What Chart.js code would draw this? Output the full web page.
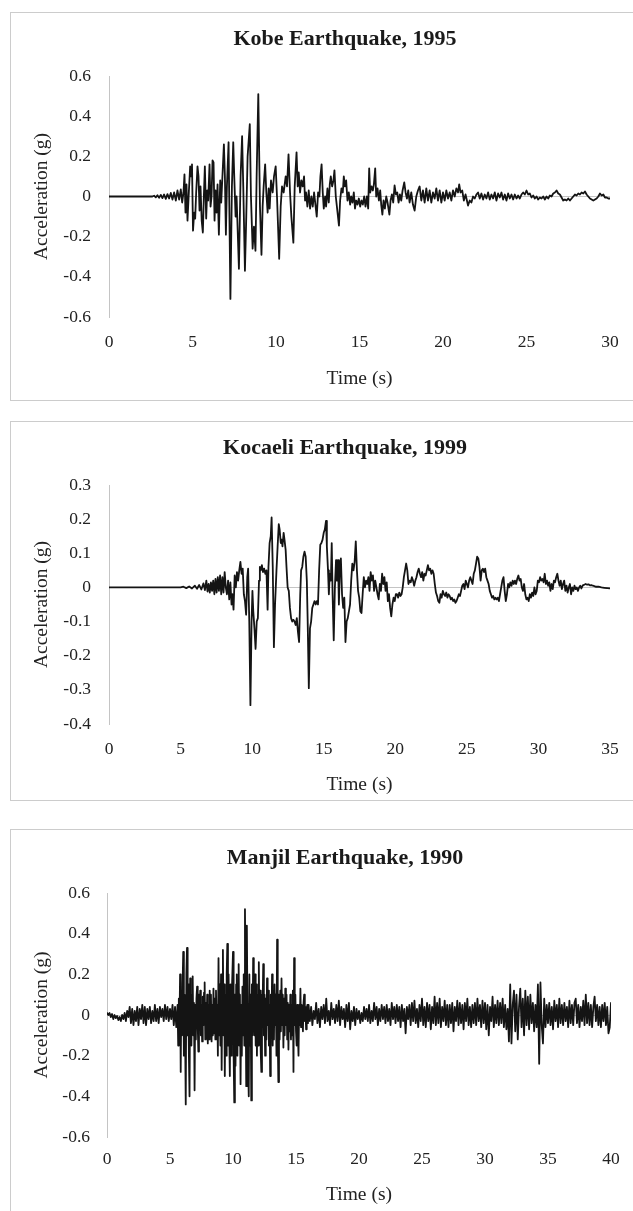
<!DOCTYPE html>
<html>
<head>
<meta charset="utf-8">
<style>
  body { margin: 0; width: 633px; height: 1211px; overflow: hidden; background: #fff; position: relative; }
  .frame { position: absolute; left: 10px; width: 680px; border: 1px solid #cccccc; }
  canvas { position: absolute; left: 0; }
</style>
</head>
<body>

<div class="frame" style="top:12px; height:387px;"></div>
<div class="frame" style="top:421px; height:378px;"></div>
<div class="frame" style="top:829px; height:420px;"></div>

<canvas id="kobe" width="690" height="389" style="top:12px;"></canvas>
<canvas id="kocaeli" width="690" height="380" style="top:421px;"></canvas>
<canvas id="manjil" width="690" height="382" style="top:829px;"></canvas>

<script src="https://cdn.jsdelivr.net/npm/chart.js"></script>

<script>
  // Kobe 1995
  const kobeTime = [
    0, 2.6, 2.7, 2.8, 2.9, 3.0, 3.1, 3.2, 3.3, 3.4,
    3.5, 3.6, 3.7, 3.8, 3.9, 4.0, 4.1, 4.2, 4.3, 4.38,
    4.46, 4.52, 4.58, 4.64, 4.7, 4.78, 4.86, 4.92, 4.97, 5.03,
    5.1, 5.16, 5.22, 5.3, 5.36, 5.42, 5.48, 5.55, 5.62, 5.68,
    5.74, 5.82, 5.88, 5.94, 6.02, 6.08, 6.14, 6.2, 6.26, 6.32,
    6.38, 6.44, 6.5, 6.58, 6.66, 6.72, 6.88, 6.94, 7.0, 7.06,
    7.16, 7.27, 7.36, 7.44, 7.5, 7.58, 7.64, 7.78, 7.88, 7.97,
    8.04, 8.14, 8.22, 8.3, 8.43, 8.5, 8.6, 8.68, 8.77, 8.84,
    8.94, 9.04, 9.13, 9.2, 9.26, 9.35, 9.42, 9.5, 9.56, 9.62,
    9.7, 9.8, 9.88, 9.98, 10.06, 10.19, 10.28, 10.36, 10.46, 10.58,
    10.66, 10.75, 10.84, 10.92, 11.04, 11.12, 11.23, 11.3, 11.36, 11.44,
    11.52, 11.6, 11.68, 11.74, 11.8, 11.88, 11.96, 12.04, 12.12, 12.2,
    12.28, 12.36, 12.44, 12.52, 12.6, 12.66, 12.73, 12.8, 12.86, 12.94,
    13.0, 13.08, 13.16, 13.22, 13.28, 13.36, 13.44, 13.5, 13.58, 13.66,
    13.77, 13.84, 13.92, 14.0, 14.06, 14.12, 14.2, 14.28, 14.36, 14.44,
    14.5, 14.58, 14.66, 14.73, 14.8, 14.88, 14.96, 15.04, 15.12, 15.2,
    15.28, 15.36, 15.44, 15.52, 15.58, 15.64, 15.72, 15.8, 15.86, 15.94,
    16.0, 16.08, 16.16, 16.24, 16.3, 16.37, 16.44, 16.52, 16.6, 16.68,
    16.79, 16.86, 16.94, 17.02, 17.1, 17.18, 17.26, 17.34, 17.42, 17.5,
    17.58, 17.68, 17.76, 17.84, 17.92, 18.0, 18.1, 18.2, 18.3, 18.4,
    18.5, 18.6, 18.7, 18.8, 18.9, 19.0, 19.1, 19.2, 19.3, 19.4,
    19.5, 19.6, 19.7, 19.8, 19.9, 20.0, 20.1, 20.2, 20.3, 20.4,
    20.5, 20.6, 20.7, 20.8, 20.9, 20.97, 21.05, 21.15, 21.25, 21.35,
    21.5, 21.6, 21.7, 21.8, 21.9, 22.0, 22.1, 22.2, 22.3, 22.4,
    22.5, 22.6, 22.7, 22.8, 22.9, 23.0, 23.1, 23.2, 23.3, 23.4,
    23.5, 23.6, 23.7, 23.8, 23.9, 24.0, 24.1, 24.2, 24.3, 24.4,
    24.5, 24.6, 24.7, 24.8, 24.9, 25.0, 25.1, 25.2, 25.3, 25.4,
    25.5, 25.6, 25.7, 25.8, 25.9, 26.0, 26.1, 26.2, 26.3, 26.4,
    26.5, 26.6, 26.7, 26.8, 26.9, 27.0, 27.1, 27.2, 27.3, 27.4,
    27.5, 27.6, 27.7, 27.8, 27.9, 28.0, 28.1, 28.2, 28.3, 28.4,
    28.5, 28.6, 28.7, 28.8, 28.9, 29.0, 29.1, 29.2, 29.3, 29.4,
    29.5, 29.6, 29.7, 29.8, 29.9, 30.0
  ];
  const kobeAcc = [
    0, 0, 0.004, -0.004, 0.006, -0.006, 0.008, -0.008, 0.01, -0.012,
    0.012, -0.01, 0.018, -0.015, 0.02, -0.02, 0.03, -0.015, 0.035, -0.03,
    0.02, 0.11, -0.08, 0.06, -0.12, 0.02, 0.15, 0.1, 0.16, -0.17,
    -0.08, -0.11, 0.02, 0.15, 0.1, -0.07, 0.05, -0.12, -0.18, 0,
    0.15, -0.11, 0.03, -0.02, 0.16, -0.05, 0, 0.18, 0.17, -0.12,
    0.03, -0.08, 0.06, -0.19, 0.08, -0.03, 0.26, 0.1, -0.19, 0.05,
    0.27, -0.51, 0.05, 0.27, 0.1, -0.1, 0, -0.36, 0.1, 0.3,
    0.05, -0.37, -0.1, 0.2, 0.36, 0, -0.26, -0.15, -0.27, 0.1,
    0.51, -0.05, -0.29, -0.05, 0.05, 0.16, 0.02, -0.08, 0.04, -0.06,
    0.08, 0.02, 0.1, 0.15, 0, -0.31, -0.05, 0.05, 0.02, 0.1,
    0.05, 0.21, 0.02, -0.1, -0.23, 0.05, 0.22, 0.05, 0.12, 0.02,
    0.08, 0.05, 0.1, -0.02, 0.02, -0.05, 0.03, -0.06, 0, -0.05,
    0.02, -0.04, -0.1, 0.02, 0, 0.1, 0.16, 0.02, -0.06, 0,
    -0.05, 0.04, -0.03, 0.06, 0.1, 0.05, 0.08, 0.13, 0, -0.06,
    -0.145, -0.02, 0.04, 0.02, 0.1, 0.05, 0.08, -0.02, 0.02, -0.04,
    0, -0.03, 0.02, -0.06, -0.02, -0.04, -0.01, -0.05, -0.02, -0.04,
    0, -0.05, 0, -0.06, 0.14, 0.02, 0.05, 0.03, 0.06, 0.14,
    0, 0.04, -0.02, 0.03, -0.04, -0.09, -0.02, -0.06, 0, -0.03,
    -0.09, -0.02, 0.01, -0.03, 0.055, 0.01, 0.02, -0.03, 0.01, -0.02,
    0.03, 0.07, 0.02, -0.01, 0.03, -0.03, 0.02, -0.04, -0.07, 0,
    0.03, 0.05, -0.02, 0.03, -0.03, 0.04, -0.02, 0.03, -0.03, 0.02,
    -0.01, 0.04, -0.02, 0.03, -0.03, 0.02, -0.02, 0.03, -0.01, 0.02,
    -0.02, 0.03, 0, 0.04, 0.02, 0.06, 0.02, 0.03, -0.02, 0.01,
    -0.045, -0.02, -0.03, 0, -0.01, 0.01, 0.02, -0.01, 0.015, -0.015,
    0.01, -0.01, 0.02, -0.015, 0.01, -0.01, 0.02, -0.02, 0.015, -0.005,
    0.02, -0.015, 0.01, -0.02, 0.015, -0.01, 0.01, -0.015, 0.01, -0.01,
    0.005, -0.01, 0.01, 0.02, 0.01, 0.03, 0.01, 0.015, -0.005, 0.005,
    -0.01, 0, -0.015, -0.005, -0.01, 0, -0.015, 0, -0.01, 0.005,
    0, 0.015, 0.02, 0.03, 0.015, 0.01, -0.005, -0.02, -0.015, -0.02,
    -0.01, -0.02, -0.01, 0, 0.01, 0.005, 0.015, 0.01, 0.02, 0.015,
    0.025, 0.01, 0, -0.01, -0.015, -0.02, -0.015, -0.01, 0, 0.015,
    0.005, 0.01, -0.005, -0.005, -0.01, -0.01
  ];
  const kobeXTicks = [0, 5, 10, 15, 20, 25, 30];
  const kobeYTicks = [-0.6, -0.4, -0.2, 0, 0.2, 0.4, 0.6];

  // Kocaeli 1999
  const kocaeliTime = [
    0, 5.0, 5.2, 5.4, 5.6, 5.8, 6.0, 6.15, 6.3, 6.45,
    6.6, 6.7, 6.8, 6.88, 6.96, 7.04, 7.12, 7.2, 7.28, 7.36,
    7.44, 7.52, 7.6, 7.68, 7.76, 7.84, 7.92, 8.0, 8.08, 8.16,
    8.24, 8.32, 8.4, 8.48, 8.56, 8.62, 8.7, 8.78, 8.86, 8.94,
    9.02, 9.1, 9.18, 9.26, 9.34, 9.42, 9.5, 9.58, 9.66, 9.72,
    9.8, 9.88, 9.96, 10.02, 10.08, 10.16, 10.24, 10.32, 10.4, 10.48,
    10.54, 10.6, 10.68, 10.76, 10.84, 10.92, 11.0, 11.08, 11.14, 11.22,
    11.3, 11.36, 11.44, 11.52, 11.6, 11.7, 11.78, 11.86, 11.92, 12.0,
    12.06, 12.12, 12.2, 12.26, 12.34, 12.4, 12.48, 12.56, 12.64, 12.72,
    12.8, 12.88, 12.96, 13.04, 13.12, 13.2, 13.28, 13.36, 13.42, 13.5,
    13.58, 13.66, 13.74, 13.82, 13.88, 13.96, 14.04, 14.12, 14.2, 14.28,
    14.36, 14.44, 14.52, 14.6, 14.68, 14.76, 14.84, 14.92, 15.0, 15.08,
    15.16, 15.22, 15.3, 15.36, 15.42, 15.5, 15.56, 15.62, 15.7, 15.78,
    15.86, 15.92, 16.0, 16.06, 16.12, 16.2, 16.28, 16.36, 16.44, 16.52,
    16.6, 16.68, 16.76, 16.84, 16.92, 17.0, 17.08, 17.16, 17.24, 17.32,
    17.4, 17.48, 17.56, 17.64, 17.72, 17.8, 17.88, 17.96, 18.04, 18.12,
    18.2, 18.28, 18.36, 18.44, 18.52, 18.6, 18.68, 18.76, 18.84, 18.92,
    19.0, 19.08, 19.16, 19.24, 19.32, 19.4, 19.48, 19.56, 19.64, 19.72,
    19.8, 19.88, 19.96, 20.04, 20.12, 20.2, 20.28, 20.36, 20.44, 20.52,
    20.6, 20.68, 20.76, 20.84, 20.92, 21.0, 21.08, 21.16, 21.24, 21.32,
    21.4, 21.48, 21.56, 21.64, 21.72, 21.8, 21.88, 21.96, 22.04, 22.12,
    22.2, 22.28, 22.36, 22.44, 22.52, 22.6, 22.68, 22.76, 22.84, 22.92,
    23.0, 23.08, 23.16, 23.24, 23.32, 23.4, 23.48, 23.56, 23.64, 23.72,
    23.8, 23.88, 23.96, 24.04, 24.12, 24.2, 24.28, 24.36, 24.44, 24.52,
    24.6, 24.68, 24.76, 24.84, 24.92, 25.0, 25.08, 25.16, 25.24, 25.32,
    25.4, 25.48, 25.56, 25.64, 25.72, 25.8, 25.88, 25.96, 26.04, 26.12,
    26.2, 26.28, 26.36, 26.44, 26.52, 26.6, 26.68, 26.76, 26.84, 26.92,
    27.0, 27.08, 27.16, 27.24, 27.32, 27.4, 27.48, 27.56, 27.64, 27.72,
    27.8, 27.88, 27.96, 28.04, 28.12, 28.2, 28.28, 28.36, 28.44, 28.52,
    28.6, 28.68, 28.76, 28.84, 28.92, 29.0, 29.08, 29.16, 29.24, 29.32,
    29.4, 29.48, 29.56, 29.64, 29.72, 29.8, 29.88, 29.96, 30.04, 30.12,
    30.2, 30.28, 30.36, 30.44, 30.52, 30.6, 30.68, 30.76, 30.84, 30.92,
    31.0, 31.08, 31.16, 31.24, 31.32, 31.4, 31.48, 31.56, 31.64, 31.72,
    31.8, 31.88, 31.96, 32.04, 32.12, 32.2, 32.28, 32.36, 32.44, 32.52,
    32.6, 32.68, 32.76, 32.84, 32.92, 33.0, 33.1, 33.2, 33.3, 33.4,
    33.5, 33.6, 33.7, 33.8, 33.9, 34.0, 34.2, 34.4, 34.6, 34.8, 35.0
  ];
  const kocaeliAcc = [
    0, 0, 0.002, -0.002, 0.003, -0.003, 0.005, -0.004, 0.007, -0.006,
    0.012, -0.008, 0.02, -0.012, 0.01, -0.015, 0.015, -0.01, 0.02, -0.02,
    0.025, -0.015, 0.03, -0.01, 0.035, -0.02, 0.03, -0.015, 0.045, 0,
    -0.02, 0.02, -0.035, 0.015, -0.05, -0.02, -0.065, 0.035, 0, 0.045,
    0.02, 0.05, 0.075, 0.04, 0.055, -0.02, -0.04, -0.08, 0.03, 0.055,
    -0.1, -0.345, -0.1, -0.01, -0.07, -0.12, -0.18, -0.1, -0.09, 0.02,
    0.06, 0.05, 0.065, 0.045, 0.055, 0.04, 0.05, -0.065, 0.06, 0.13,
    0.15, 0.205, 0.06, -0.175, -0.05, 0.05, 0.12, 0.185, 0.17, 0.13,
    0.14, 0.12, 0.16, 0.14, 0.11, 0.06, 0, -0.01, -0.06, -0.09,
    -0.1, -0.095, -0.1, -0.11, -0.09, -0.13, -0.16, -0.02, 0.05, 0.06,
    0.09, 0.105, 0.09, 0.02, -0.1, -0.295, -0.12, -0.1, -0.06, -0.05,
    -0.04, -0.05, -0.04, -0.05, 0.05, 0.125, 0.13, 0.14, 0.16, 0.17,
    0.195, 0.12, 0.05, -0.02, 0.04, 0.02, 0.13, -0.02, -0.155, 0,
    0.08, 0.02, 0.08, -0.05, 0.04, 0.085, -0.02, -0.06, -0.03, -0.16,
    -0.1, -0.09, -0.07, -0.05, 0.02, 0.07, 0.05, 0.075, 0.135, 0.05,
    -0.01, -0.03, -0.07, -0.075, -0.02, 0.03, 0, 0.02, 0.01, 0.03,
    -0.01, 0.045, 0.02, 0.035, -0.01, 0.02, 0, -0.02, -0.035, 0.01,
    -0.01, 0.04, 0.01, 0.03, -0.01, 0.015, -0.04, -0.02, -0.06, -0.085,
    -0.05, -0.03, -0.04, -0.02, -0.02, -0.03, -0.015, -0.025, -0.02, 0,
    0.03, 0.05, 0.07, 0.05, 0.01, 0.02, 0.015, 0.03, 0.02, 0.005,
    0.02, 0.03, 0.045, 0.055, 0.04, 0.03, 0.045, 0.02, 0.04, 0.035,
    0.05, 0.065, 0.05, 0.055, 0.04, 0.05, 0.04, 0.01, -0.015, -0.025,
    -0.04, -0.045, -0.02, -0.03, -0.01, -0.02, -0.025, -0.015, -0.03, -0.02,
    -0.025, -0.035, -0.03, -0.04, -0.035, -0.045, -0.04, -0.03, -0.02, -0.025,
    -0.01, 0.005, 0.01, -0.005, 0.02, 0.01, 0, 0.02, 0.03, 0.02,
    0.01, 0.04, 0.05, 0.07, 0.09, 0.085, 0.06, 0.02, 0.05, 0.055,
    0.045, 0.055, 0.03, 0.02, 0.01, -0.01, -0.02, -0.03, -0.025, -0.035,
    -0.03, -0.035, -0.03, -0.04, -0.02, 0, 0.02, 0.03, -0.01, -0.04,
    -0.02, 0.01, 0, 0.015, 0.005, 0.02, 0.01, 0.02, 0.01, 0.025,
    0.035, 0.02, 0.025, 0, -0.01, 0.01, -0.02, -0.035, -0.03, -0.04,
    -0.02, -0.03, -0.015, -0.025, 0, -0.02, -0.01, 0.02, 0.015, 0.03,
    0.02, 0.025, 0.015, 0.04, 0.01, 0.02, 0.005, 0.015, -0.01, 0.01,
    -0.005, 0.02, 0.015, 0.03, 0.04, 0.02, 0.005, 0.02, -0.005, 0.01,
    0.02, -0.01, 0.005, -0.015, 0, 0.01, -0.02, 0, -0.01, 0.005,
    -0.005, 0, -0.01, 0, 0.005, -0.003, 0.006, 0.008, 0.01, 0.008,
    0.009, 0.006, 0.007, 0.005, 0.004, 0.002, 0.002, 0, -0.001, -0.002, -0.003
  ];
  const kocaeliXTicks = [0, 5, 10, 15, 20, 25, 30, 35];
  const kocaeliYTicks = [-0.4, -0.3, -0.2, -0.1, 0, 0.1, 0.2, 0.3];

  // Manjil 1990
  const manjilTime = [
    0, 0.1, 0.2, 0.3, 0.4, 0.5, 0.6, 0.7, 0.8, 0.9,
    1.0, 1.1, 1.2, 1.3, 1.4, 1.5, 1.6, 1.7, 1.8, 1.9,
    2.0, 2.1, 2.2, 2.3, 2.4, 2.5, 2.6, 2.7, 2.8, 2.9,
    3.0, 3.1, 3.2, 3.3, 3.4, 3.5, 3.6, 3.7, 3.8, 3.9,
    4.0, 4.1, 4.2, 4.3, 4.4, 4.5, 4.6, 4.7, 4.8, 4.9,
    5.0, 5.1, 5.2, 5.3, 5.4, 5.5,
    5.6, 5.65, 5.7, 5.75, 5.8, 5.85, 5.9, 5.95, 6.0, 6.05,
    6.1, 6.15, 6.2, 6.25, 6.3, 6.35, 6.4, 6.45, 6.5, 6.55,
    6.6, 6.65, 6.7, 6.75, 6.8, 6.85, 6.9, 6.95, 7.0, 7.05,
    7.1, 7.15, 7.2, 7.25, 7.3, 7.35, 7.4, 7.45, 7.5, 7.55,
    7.6, 7.65, 7.7, 7.75, 7.8, 7.85, 7.9, 7.95, 8.0, 8.05,
    8.1, 8.15, 8.2, 8.25, 8.3, 8.35, 8.4, 8.45, 8.5, 8.55,
    8.6, 8.65, 8.7, 8.75, 8.8, 8.85, 8.9, 8.95, 9.0, 9.05,
    9.1, 9.15, 9.2, 9.25, 9.3, 9.35, 9.4, 9.45, 9.5, 9.55,
    9.6, 9.65, 9.7, 9.75, 9.8, 9.85, 9.9, 9.95, 10.0, 10.05,
    10.1, 10.15, 10.2, 10.25, 10.3, 10.35, 10.4, 10.45, 10.5, 10.55,
    10.6, 10.65, 10.7, 10.75, 10.8, 10.85, 10.9, 10.95, 11.0, 11.05,
    11.1, 11.15, 11.2, 11.25, 11.3, 11.35, 11.4, 11.45, 11.5, 11.55,
    11.6, 11.65, 11.7, 11.75, 11.8, 11.85, 11.9, 11.95, 12.0, 12.05,
    12.1, 12.15, 12.2, 12.25, 12.3, 12.35, 12.4, 12.45, 12.5, 12.55,
    12.6, 12.65, 12.7, 12.75, 12.8, 12.85, 12.9, 12.95, 13.0, 13.05,
    13.1, 13.15, 13.2, 13.25, 13.3, 13.35, 13.4, 13.45, 13.5, 13.55,
    13.6, 13.65, 13.7, 13.75, 13.8, 13.85, 13.9, 13.95, 14.0, 14.05,
    14.1, 14.15, 14.2, 14.25, 14.3, 14.35, 14.4, 14.45, 14.5, 14.55,
    14.6, 14.65, 14.7, 14.75, 14.8, 14.85, 14.9, 14.95, 15.0, 15.05,
    15.1, 15.15, 15.2, 15.25, 15.3, 15.35, 15.4, 15.45, 15.5, 15.55,
    15.6, 15.65, 15.7, 15.75, 15.8, 15.85, 15.9, 15.95, 16.0,
    16.1, 16.2, 16.3, 16.4, 16.5, 16.6, 16.7, 16.8, 16.9, 17.0,
    17.1, 17.2, 17.3, 17.4, 17.5, 17.6, 17.7, 17.8, 17.9, 18.0,
    18.1, 18.2, 18.3, 18.4, 18.5, 18.6, 18.7, 18.8, 18.9, 19.0,
    19.1, 19.2, 19.3, 19.4, 19.5, 19.6, 19.7, 19.8, 19.9, 20.0,
    20.1, 20.2, 20.3, 20.4, 20.5, 20.6, 20.7, 20.8, 20.9, 21.0,
    21.1, 21.2, 21.3, 21.4, 21.5, 21.6, 21.7, 21.8, 21.9, 22.0,
    22.1, 22.2, 22.3, 22.4, 22.5, 22.6, 22.7, 22.8, 22.9, 23.0,
    23.1, 23.2, 23.3, 23.4, 23.5, 23.6, 23.7, 23.8, 23.9, 24.0,
    24.1, 24.2, 24.3, 24.4, 24.5, 24.6, 24.7, 24.8, 24.9, 25.0,
    25.1, 25.2, 25.3, 25.4, 25.5, 25.6, 25.7, 25.8, 25.9, 26.0,
    26.1, 26.2, 26.3, 26.4, 26.5, 26.6, 26.7, 26.8, 26.9, 27.0,
    27.1, 27.2, 27.3, 27.4, 27.5, 27.6, 27.7, 27.8, 27.9, 28.0,
    28.1, 28.2, 28.3, 28.4, 28.5, 28.6, 28.7, 28.8, 28.9, 29.0,
    29.1, 29.2, 29.3, 29.4, 29.5, 29.6, 29.7, 29.8, 29.9, 30.0,
    30.1, 30.2, 30.3, 30.4, 30.5, 30.6, 30.7, 30.8, 30.9, 31.0,
    31.1, 31.2, 31.3, 31.4, 31.5, 31.6, 31.7, 31.8, 31.9, 32.0,
    32.1, 32.2, 32.3, 32.4, 32.5, 32.6, 32.7, 32.8, 32.9, 33.0,
    33.1, 33.2, 33.3, 33.4, 33.5, 33.6, 33.7, 33.8, 33.9, 34.0,
    34.1, 34.2, 34.3, 34.4, 34.5, 34.6, 34.7, 34.8, 34.9, 35.0,
    35.1, 35.2, 35.3, 35.4, 35.5, 35.6, 35.7, 35.8, 35.9, 36.0,
    36.1, 36.2, 36.3, 36.4, 36.5, 36.6, 36.7, 36.8, 36.9, 37.0,
    37.1, 37.2, 37.3, 37.4, 37.5, 37.6, 37.7, 37.8, 37.9, 38.0,
    38.1, 38.2, 38.3, 38.4, 38.5, 38.6, 38.7, 38.8, 38.9, 39.0,
    39.1, 39.2, 39.3, 39.4, 39.5, 39.6, 39.7, 39.8, 39.9, 40.0
  ];
  const manjilAcc = [
    0.01, 0, 0.01, -0.01, 0.005, -0.02, 0, -0.015, -0.005, -0.025,
    -0.01, -0.03, 0, -0.02, 0.01, -0.03, 0.02, -0.01, 0.04, -0.04,
    0.03, -0.05, 0.02, -0.03, 0.04, -0.05, 0.03, -0.02, 0.05, -0.04,
    0.04, -0.05, 0.03, -0.02, 0.04, -0.04, 0.02, -0.03, 0.05, -0.03,
    0.03, -0.04, 0.04, -0.01, 0.03, -0.03, 0.05, -0.02, 0.04, -0.03,
    0.03, -0.02, 0.05, -0.05, 0.04, -0.06,
    0.05, -0.15, 0.08, -0.05, 0.2, -0.28, 0.1, -0.1, 0.15, 0.31,
    -0.2, 0.1, -0.1, -0.44, 0.2, 0.33, -0.1, 0.15, -0.2, -0.4,
    0.18, 0.05, -0.15, 0.1, 0.19, -0.1, 0.06, -0.37, 0.05, -0.12,
    0.08, 0.14, -0.05, -0.18, 0.1, -0.06, 0.12, -0.1, 0.05, -0.13,
    0.09, -0.05, 0.11, 0.16, -0.12, 0.06, -0.1, 0.1, -0.14, 0.05,
    -0.12, 0.12, -0.08, 0.1, -0.13, 0.05, -0.1, 0.13, -0.09, 0.08,
    -0.12, 0.12, -0.06, 0.05, -0.2, 0.28, -0.1, 0.15, -0.15, 0.2,
    -0.27, 0.12, 0.32, -0.1, 0.15, -0.3, 0.1, -0.2, 0.2, 0.35,
    -0.15, 0.2, -0.1, -0.3, 0.15, -0.2, 0.1, 0.2, 0.31, -0.2,
    -0.43, 0.1, -0.25, 0.15, 0.2, -0.2, 0.1, 0.25, -0.15, 0.1,
    -0.34, 0.05, -0.2, 0.14, -0.1, 0.2, -0.15, 0.52, 0.1, -0.35,
    0.44, 0, -0.25, -0.4, 0.2, -0.15, 0.1, -0.42, 0.15, -0.1,
    0.28, 0.1, -0.1, 0.2, -0.15, 0.15, -0.2, 0.1, -0.15, 0.26,
    -0.1, 0.12, -0.18, -0.28, 0.1, 0.05, 0.25, -0.1, 0.1, -0.2,
    0.08, -0.12, 0.18, -0.05, 0.12, -0.15, 0.05, -0.3, 0.1, -0.1,
    0.2, -0.15, 0.1, -0.12, 0.15, -0.05, 0.1, -0.2, 0.37, -0.1,
    -0.33, 0.1, -0.12, 0.12, -0.08, 0.18, -0.05, 0.1, -0.16, 0.08,
    -0.1, 0.13, -0.05, 0.1, -0.12, 0.06, -0.17, 0.05, -0.08, 0.1,
    -0.12, 0.05, -0.1, 0.12, -0.28, 0.28, -0.05, 0.1, -0.08, -0.15,
    0.05, -0.1, -0.2, 0.05, -0.05, 0.13, -0.06, 0.05, -0.02, -0.08,
    0.06, 0.1, -0.03, 0.04, -0.07, 0.02, 0.05, -0.04, 0.05,
    -0.03, 0.04, -0.05, 0.02, -0.02, 0.06, -0.04, 0.03, -0.06, 0.04,
    -0.02, 0.05, -0.04, 0.08, -0.03, 0.02, -0.05, 0.06, -0.02, 0.03,
    -0.04, 0.05, -0.03, 0.07, -0.05, 0.04, -0.02, 0.03, -0.06, 0.05,
    -0.03, 0.06, -0.07, 0.02, -0.03, 0.04, -0.05, 0.03, -0.02, 0.02,
    -0.04, 0.01, -0.03, 0.04, -0.02, 0.03, -0.03, 0.05, -0.04, 0.02,
    -0.03, 0.06, -0.02, 0.04, -0.05, 0.03, -0.03, 0.05, -0.02, 0.04,
    -0.04, 0.05, -0.03, 0.03, -0.05, 0.06, -0.02, 0.04, -0.04, 0.05,
    -0.03, 0.04, -0.06, 0.05, -0.03, 0.03, -0.09, 0.04, -0.02, 0.05,
    -0.05, 0.06, -0.03, 0.07, -0.04, 0.03, -0.06, 0.05, -0.03, 0.08,
    -0.05, 0.04, -0.06, 0.06, -0.03, 0.05, -0.07, 0.04, -0.04, 0.09,
    -0.05, 0.06, -0.04, 0.08, -0.06, 0.04, -0.03, 0.07, -0.05, 0.05,
    -0.06, 0.05, -0.04, 0.06, -0.08, 0.04, -0.03, 0.07, -0.05, 0.06,
    -0.04, 0.05, -0.07, 0.06, -0.03, 0.08, -0.05, 0.04, -0.06, 0.05,
    -0.04, 0.06, -0.05, 0.08, -0.03, 0.05, -0.06, 0.07, -0.04, 0.06,
    -0.07, 0.05, -0.1, 0.04, -0.03, 0.09, -0.06, 0.05, -0.04, 0.07,
    -0.05, 0.06, -0.04, 0.08, -0.06, 0.05, -0.07, 0.03, -0.13, 0.15,
    -0.14, 0.05, 0.12, -0.08, 0.1, -0.12, 0.04, 0.13, -0.06, 0.08,
    -0.1, 0.12, -0.05, 0.09, -0.07, 0.1, -0.04, 0.06, -0.08, 0.05,
    -0.06, 0.15, -0.24, 0.16, -0.05, -0.14, 0.08, -0.06, 0.05, -0.04,
    0.06, -0.05, 0.04, -0.07, 0.07, -0.03, 0.05, -0.06, 0.08, -0.04,
    0.05, -0.05, 0.06, -0.03, 0.04, -0.06, 0.07, -0.04, 0.05, -0.05,
    0.06, 0.08, -0.04, 0.05, -0.06, 0.04, -0.03, 0.07, -0.05, 0.1,
    -0.04, 0.06, -0.05, 0.05, -0.06, 0.04, 0.09, -0.03, 0.05, -0.05,
    0.04, -0.06, 0.05, -0.03, 0.06, -0.05, 0.04, -0.09, -0.06, 0.06
  ];
  const manjilXTicks = [0, 5, 10, 15, 20, 25, 30, 35, 40];
  const manjilYTicks = [-0.6, -0.4, -0.2, 0, 0.2, 0.4, 0.6];

  Chart.defaults.font.family = "'Liberation Serif', 'Times New Roman', serif";

  function drawRecord(id, title, time, acc, xTicks, yTicks, fit) {
    const points = time.map((t, i) => ({ x: t, y: acc[i] }));
    return new Chart(document.getElementById(id), {
      type: 'line',
      data: {
        datasets: [{
          data: points,
          yAxisID: 'y',
          borderColor: '#141414',
          borderWidth: fit.lineWidth,
          pointRadius: 0,
          tension: 0,
          borderJoinStyle: 'round',
          borderCapStyle: 'round'
        }]
      },
      options: {
        responsive: false,
        animation: false,
        events: [],
        layout: { padding: 0 },
        plugins: {
          legend: { display: false },
          tooltip: { enabled: false },
          title: {
            display: true,
            text: title,
            color: '#1a1a1a',
            font: { size: 22, weight: 'bold' },
            padding: { top: fit.titleTop, bottom: fit.titleBottom }
          }
        },
        scales: {
          x: {
            type: 'linear',
            min: xTicks[0],
            max: xTicks[xTicks.length - 1],
            afterBuildTicks: s => { s.ticks = xTicks.map(v => ({ value: v })); },
            afterFit: s => { s.height = fit.xHeight; },
            grid: { display: false, drawTicks: false },
            border: { display: false },
            ticks: { autoSkip: false, maxRotation: 0, padding: fit.xPad, color: '#222222', font: { size: 17.5 } },
            title: { display: true, text: 'Time (s)', color: '#222222', font: { size: 19.5 }, padding: { top: 0, bottom: fit.xTitlePad } }
          },
          y: {
            min: yTicks[0],
            max: yTicks[yTicks.length - 1],
            afterBuildTicks: s => { s.ticks = yTicks.map(v => ({ value: v })); },
            afterFit: s => { s.width = fit.left; },
            grid: {
              drawTicks: false,
              color: c => (c.tick && c.tick.value === 0) ? '#c4c4c4' : 'rgba(0,0,0,0)'
            },
            border: { display: true, color: '#c4c4c4' },
            ticks: {
              padding: fit.yPad,
              color: '#222222',
              font: { size: 17.5 },
              callback: v => v === 0 ? '0' : v.toFixed(1)
            },
            title: { display: true, text: 'Acceleration (g)', color: '#222222', font: { size: 19.5 }, padding: { top: 30, bottom: 0 } }
          },
          // empty right gutter so the title centres on the whole (cropped) frame
          spare: {
            position: 'right',
            afterFit: s => { s.width = 690 - fit.right; },
            grid: { display: false, drawTicks: false },
            border: { display: false },
            ticks: { display: false }
          }
        }
      }
    });
  }

  drawRecord('kobe', 'Kobe Earthquake, 1995', kobeTime, kobeAcc, kobeXTicks, kobeYTicks, {
    lineWidth: 1.8, titleTop: 14, titleBottom: 23.6, xHeight: 84, xPad: 15, xTitlePad: 10.3,
    left: 109, yPad: 18, right: 610
  });
  drawRecord('kocaeli', 'Kocaeli Earthquake, 1999', kocaeliTime, kocaeliAcc, kocaeliXTicks, kocaeliYTicks, {
    lineWidth: 1.8, titleTop: 14, titleBottom: 23.6, xHeight: 77, xPad: 15, xTitlePad: 4.3,
    left: 109, yPad: 18, right: 610
  });
  drawRecord('manjil', 'Manjil Earthquake, 1990', manjilTime, manjilAcc, manjilXTicks, manjilYTicks, {
    lineWidth: 1.8, titleTop: 16, titleBottom: 21.6, xHeight: 74, xPad: 12, xTitlePad: 4.3,
    left: 107, yPad: 17, right: 611
  });
</script>
</body>
</html>
